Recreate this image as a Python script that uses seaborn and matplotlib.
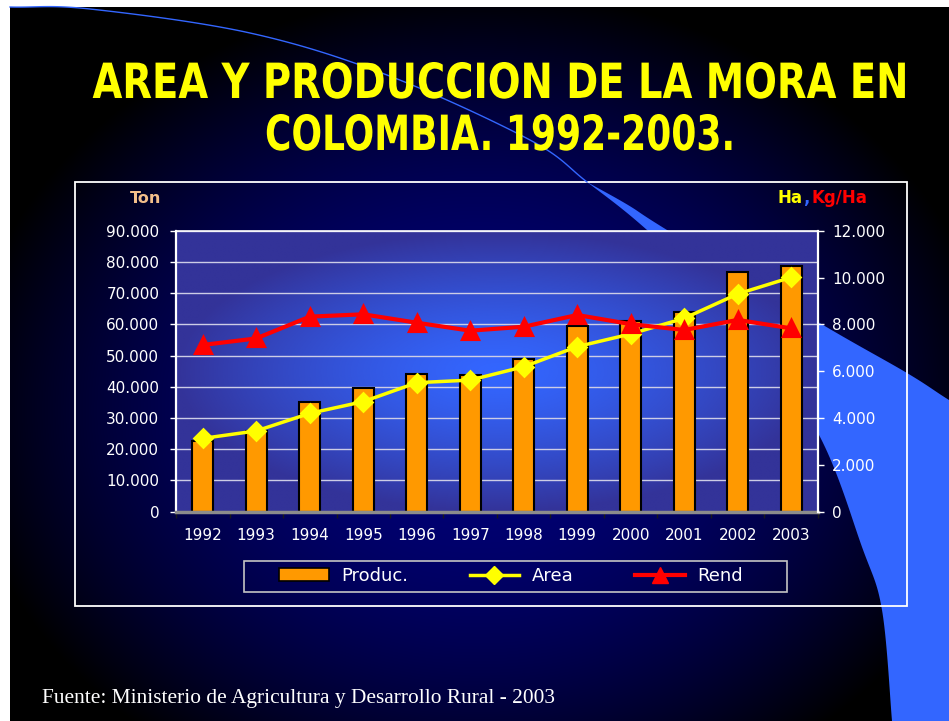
import numpy as np
import matplotlib
matplotlib.use("Agg")
import matplotlib.pyplot as plt
import seaborn as sns
from matplotlib import font_manager
from matplotlib.font_manager import FontProperties
from matplotlib.lines import Line2D
from matplotlib.patches import Patch, Polygon, Rectangle
from matplotlib.patheffects import AbstractPathEffect
from matplotlib.ticker import FuncFormatter
from matplotlib.transforms import Affine2D

# data
years = ["1992", "1993", "1994", "1995", "1996", "1997",
         "1998", "1999", "2000", "2001", "2002", "2003"]
produccion = [22700, 25800, 35200, 39500, 44100, 43900,
              48900, 59400, 61200, 64100, 76800, 78600]       # Ton
area = [3130, 3450, 4200, 4700, 5510, 5620,
        6190, 7050, 7590, 8260, 9300, 10010]                   # Ha
rend = [7120, 7400, 8330, 8430, 8070, 7730,
        7900, 8400, 8010, 7760, 8190, 7830]                    # Kg/Ha
left_ticks = list(range(0, 90001, 10000))
right_ticks = list(range(0, 12001, 2000))
legend_labels = ["Produc.", "Area", "Rend"]
title_lines = ["AREA Y PRODUCCION DE LA MORA EN", "COLOMBIA. 1992-2003."]

W, H = 949, 721
ORANGE, YELLOW, RED, LIGHT = "#FF9900", "#FFFF00", "#FF0000", "#3366FF"


class Squeeze(AbstractPathEffect):
    """Scale a text horizontally around a given x (display pixels)."""

    def __init__(self, sx, cx):
        super().__init__()
        self.sx, self.cx = sx, cx

    def draw_path(self, renderer, gc, tpath, affine, rgbFace=None):
        squeeze = Affine2D().translate(-self.cx, 0).scale(self.sx, 1).translate(self.cx, 0)
        renderer.draw_path(gc, tpath, affine + squeeze, rgbFace)


def title_font():
    # a bold narrow face if one is installed, else plain bold sans
    def weight(f):
        w = f.weight
        return font_manager.weight_dict.get(w, 400) if isinstance(w, str) else int(w)

    best, best_score = None, None
    for f in font_manager.fontManager.ttflist:
        name = f.name.lower()
        narrow = ("narrow" in name or "condensed" in name
                  or str(f.stretch) in ("condensed", "semi-condensed"))
        if not narrow or f.style != "normal" or "mono" in name or weight(f) < 700:
            continue
        score = (0 if "liberation" in name or "arimo" in name else 1, abs(weight(f) - 700))
        if best is None or score < best_score:
            best, best_score = f, score
    if best is not None:
        return lambda size: FontProperties(fname=best.fname, size=size)
    return lambda size: FontProperties(family="Liberation Sans", weight="bold", size=size)


def smooth(pts, n=24):
    pts = np.asarray(pts, float)
    ext = np.vstack([2 * pts[0] - pts[1], pts, 2 * pts[-1] - pts[-2]])
    out = []
    t = np.linspace(0, 1, n, endpoint=False)[:, None]
    for i in range(1, len(ext) - 2):
        p0, p1, p2, p3 = ext[i - 1:i + 3]
        out.append(0.5 * (2 * p1 + (-p0 + p2) * t
                          + (2 * p0 - 5 * p1 + 4 * p2 - p3) * t ** 2
                          + (-p0 + 3 * p1 - 3 * p2 + p3) * t ** 3))
    out.append(pts[-1:])
    return np.vstack(out)


def thousands(v, _):
    return f"{v:,.0f}".replace(",", ".")


fig = plt.figure(figsize=(W / 100, H / 100), dpi=100)
renderer = fig.canvas.get_renderer()

# ---- slide background
bg = fig.add_axes([0, 0, 1, 1])
bg.set_zorder(0)
bg.set_xlim(0, W)
bg.set_ylim(H, 0)
bg.axis("off")
yy, xx = np.mgrid[0:H, 0:W] + 0.5
r2 = ((xx - 480) / 520) ** 2 + ((yy - 410) / 420) ** 2
shade = np.clip(1 - r2, 0, 1)
img = np.zeros((H, W, 3))
img[..., 2] = 120 / 255 * shade
img[:7, :] = 1
img[:, :10] = 1
bg.imshow(img, extent=(0, W, H, 0), aspect="auto", interpolation="bilinear")

inner = smooth([(10, 7), (90, 9), (250, 33), (387, 75), (530, 140), (587, 182),
                (647, 230), (740, 318), (818, 433), (862, 547),
                (882, 610), (892, 721), (895, 760)])
split = np.argmin(np.abs(inner[:, 0] - 587) + np.abs(inner[:, 1] - 182))
outer = smooth([(587, 182), (628, 205), (667, 230), (818, 322), (907, 373),
                (949, 400), (1000, 431)])
crescent = np.vstack([inner[split:], [(1000, 760)], outer[::-1]])
bg.add_patch(Polygon(crescent, closed=True, facecolor=LIGHT, edgecolor="none"))
bg.plot(inner[:split + 1, 0], inner[:split + 1, 1], color=LIGHT, lw=1.0)
bg.add_patch(Rectangle((75.5, 182), 831.5, 424, fill=False, edgecolor="white", lw=1.3))
bg.add_patch(Rectangle((244, 561), 543, 31, fill=False, edgecolor="#c4c4c4", lw=1.2))

# ---- title: ~38 px caps, lines 815 px and 470 px wide as in the slide
make_fp = title_font()
size = 38.0
probe = bg.text(0, 0, title_lines[0], fontproperties=make_fp(size))
w = probe.get_window_extent(renderer).width
probe.remove()
if w > 925:
    size *= 925 / w
for line, base, target in zip(title_lines, (98, 150), (815, 470)):
    t = bg.text(0, 0, line, fontproperties=make_fp(size))
    lw_ = t.get_window_extent(renderer).width
    t.remove()
    sx = target / lw_
    x0 = float(np.clip(500, 12 + lw_ / 2, 947 - lw_ / 2))
    cx = 500.0 if abs(1 - sx) < 1e-3 or x0 == 500 else (500 - sx * x0) / (1 - sx)
    bg.text(x0, base, line, ha="center", va="baseline", color=YELLOW,
            fontproperties=make_fp(size), path_effects=[Squeeze(sx, cx)])

bg.text(130, 203, "Ton", ha="left", va="baseline", color="#F2BE8A",
        fontsize=11.5, fontweight="bold")
bg.text(778, 203, "Ha", ha="left", va="baseline", color=YELLOW,
        fontsize=12, fontweight="bold")
bg.text(803, 203, ",", ha="left", va="baseline", color=LIGHT,
        fontsize=12, fontweight="bold")
bg.text(812, 203, "Kg/Ha", ha="left", va="baseline", color=RED,
        fontsize=12, fontweight="bold")
bg.text(42, 703, "Fuente: Ministerio de Agricultura y Desarrollo Rural - 2003",
        ha="left", va="baseline", color="white", fontsize=15.4, family="Liberation Serif")

# ---- main chart
ax = fig.add_axes([176 / W, 1 - 511.7 / H, 642 / W, 281 / H])
ax.set_zorder(1)
ax.patch.set_visible(False)

sns.barplot(x=years, y=produccion, color=ORANGE, saturation=1, width=0.4,
            edgecolor="black", linewidth=1.5, ax=ax, zorder=2)

v, u = np.mgrid[-1:1:200j, -1:1:400j]
t = np.clip(np.sqrt(u ** 2 + v ** 2), 0, 1)[..., None] ** 1.4
center_c = np.array([51, 102, 255]) / 255
edge_c = np.array([51, 51, 153]) / 255
grad = center_c * (1 - t) + edge_c * t
ax.imshow(grad, extent=(0, 1, 0, 1), transform=ax.transAxes, aspect="auto",
          zorder=0, interpolation="bilinear")

ax.set_xlim(-0.5, len(years) - 0.5)
ax.set_ylim(left_ticks[0], left_ticks[-1])
ax.set_yticks(left_ticks)
ax.yaxis.set_major_formatter(FuncFormatter(thousands))
ax.set_axisbelow(True)
ax.yaxis.grid(True, color="#cdcde6", lw=1)
ax.xaxis.grid(False)
ax.set_xlabel("")
ax.set_ylabel("")
ax.set_xticks(np.arange(-0.5, len(years), 1), minor=True)
ax.tick_params(axis="x", which="major", length=0, pad=12, labelsize=11, labelcolor="white")
ax.tick_params(axis="x", which="minor", length=4, width=1, color="#1a1a1a", direction="out")
ax.tick_params(axis="y", length=4, width=1, color="white", pad=8,
               labelsize=11, labelcolor="white", direction="out")
ax.spines["left"].set_color("white")
ax.spines["left"].set_linewidth(1.6)
ax.spines["top"].set_color("white")
ax.spines["top"].set_linewidth(1.2)
ax.spines["bottom"].set_color("#8c8c8c")
ax.spines["bottom"].set_linewidth(2.5)
ax.spines["right"].set_visible(False)

ax2 = ax.twinx()
ax2.set_zorder(2)
ax2.patch.set_visible(False)
sns.pointplot(x=years, y=area, color=YELLOW, markers="D", linestyles="-",
              errorbar=None, markersize=9, linewidth=2.5, ax=ax2)
sns.pointplot(x=years, y=rend, color=RED, markers="^", linestyles="-",
              errorbar=None, markersize=11, linewidth=3, ax=ax2)
ax2.set_xlim(-0.5, len(years) - 0.5)
ax2.set_ylim(right_ticks[0], right_ticks[-1])
ax2.set_yticks(right_ticks)
ax2.yaxis.set_major_formatter(FuncFormatter(thousands))
ax2.set_ylabel("")
ax2.set_xlabel("")
ax2.grid(False)
ax2.tick_params(axis="y", length=4, width=1, color="white", pad=6,
                labelsize=11, labelcolor="white", direction="out")
for side in ("left", "top", "bottom"):
    ax2.spines[side].set_visible(False)
ax2.spines["right"].set_color("white")
ax2.spines["right"].set_linewidth(1.6)

handles = [
    Patch(facecolor=ORANGE, edgecolor="black", lw=1.2),
    Line2D([], [], color=YELLOW, lw=2.5, marker="D", markersize=9),
    Line2D([], [], color=RED, lw=3, marker="^", markersize=11),
]
fig.legend(handles, legend_labels, loc="center", bbox_to_anchor=(511 / W, 1 - 576 / H),
           ncol=3, frameon=False, fontsize=13, handlelength=2.75, handletextpad=0.7,
           columnspacing=3.4, labelcolor="white", borderpad=0)

fig.savefig("out.png", dpi=100)
